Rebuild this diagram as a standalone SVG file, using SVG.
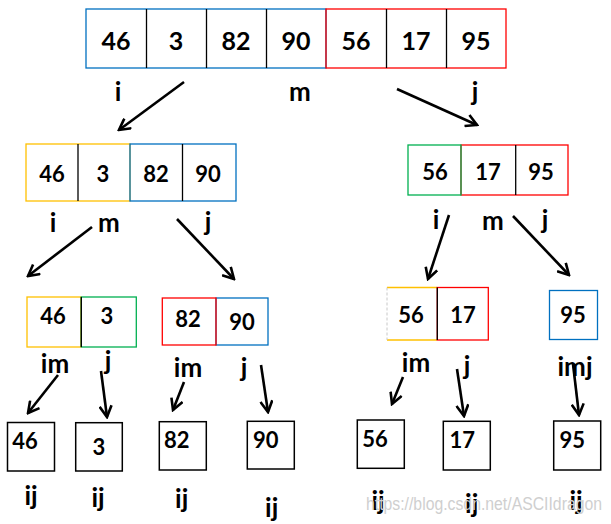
<svg xmlns="http://www.w3.org/2000/svg" width="611" height="524" viewBox="0 0 611 524">
<style>
.bg{fill:#fff}
.cell{fill:none;stroke-width:1.3}
.blue{stroke:#0070C0}
.red{stroke:#FF0000}
.yel{stroke:#FFC000}
.grn{stroke:#00B050}
.blk{stroke:#000}
.leaf{fill:none;stroke:#000;stroke-width:1.5}
.num{font-family:Lato,"Open Sans","DejaVu Sans",sans-serif;font-weight:700;fill:#000;text-anchor:middle}
.big{font-size:25px}
.mid{font-size:22px}
.lbl{font-family:Lato,"Open Sans","DejaVu Sans",sans-serif;font-weight:700;font-size:26px;fill:#000;text-anchor:middle}
.arr{fill:none;stroke:#000;stroke-width:2.6;marker-end:url(#ah)}
.wm{font-family:"Liberation Sans",Arial,sans-serif;font-size:18px;fill:#cfcfcf}
</style>
<defs>
<marker id="ah" viewBox="0 0 14 14" refX="12" refY="7" markerWidth="14" markerHeight="14" markerUnits="userSpaceOnUse" orient="auto">
<path d="M1,1 L12,7 L1,13" fill="none" stroke="#000" stroke-width="2.6" stroke-linejoin="miter"/>
</marker>
</defs>
<rect class="bg" x="0" y="0" width="611" height="524"/>

<g id="node-root">
<rect class="cell blue" x="86" y="9" width="240" height="59"/>
<rect class="cell red" x="326" y="9" width="180" height="59"/>
<line class="cell blk" x1="146.5" y1="9" x2="146.5" y2="68"/>
<line class="cell blk" x1="206.5" y1="9" x2="206.5" y2="68"/>
<line class="cell blk" x1="266.5" y1="9" x2="266.5" y2="68"/>
<line class="cell blk" x1="386.5" y1="9" x2="386.5" y2="68"/>
<line class="cell blk" x1="446.5" y1="9" x2="446.5" y2="68"/>
<text class="num big" x="116" y="49.5">46</text>
<text class="num big" x="176" y="49.5">3</text>
<text class="num big" x="236" y="49.5">82</text>
<text class="num big" x="296" y="49.5">90</text>
<text class="num big" x="356" y="49.5">56</text>
<text class="num big" x="416" y="49.5">17</text>
<text class="num big" x="476" y="49.5">95</text>
<text class="lbl" x="118" y="101">i</text>
<text class="lbl" x="300" y="101">m</text>
<text class="lbl" x="475" y="101">j</text>
</g>

<g id="node-left">
<rect class="cell yel" x="26" y="144" width="104" height="57"/>
<rect class="cell blue" x="130" y="144" width="106" height="57"/>
<line class="cell blk" x1="78" y1="144" x2="78" y2="201"/>
<line class="cell blk" x1="182.5" y1="144" x2="182.5" y2="201"/>
<text class="num mid" x="52" y="181.5">46</text>
<text class="num mid" x="103" y="181.5">3</text>
<text class="num mid" x="156" y="181.5">82</text>
<text class="num mid" x="208" y="181.5">90</text>
<text class="lbl" x="53" y="232">i</text>
<text class="lbl" x="109" y="232">m</text>
<text class="lbl" x="208" y="231">j</text>
</g>

<g id="node-right">
<rect class="cell red" x="461" y="145" width="107" height="50"/>
<rect class="cell grn" x="408" y="145" width="53" height="50"/>
<line class="cell blk" x1="515.7" y1="145" x2="515.7" y2="195"/>
<text class="num mid" x="435" y="179.5">56</text>
<text class="num mid" x="488" y="179.5">17</text>
<text class="num mid" x="541" y="179.5">95</text>
<text class="lbl" x="436" y="229">i</text>
<text class="lbl" x="493" y="229.5">m</text>
<text class="lbl" x="545" y="229">j</text>
</g>

<g id="node-46-3">
<rect class="cell yel" x="27" y="297" width="54" height="50"/>
<rect class="cell grn" x="81.3" y="297" width="55" height="50"/>
<line class="cell blk" x1="81.3" y1="297" x2="81.3" y2="347"/>
<text class="num mid" x="53" y="324">46</text>
<text class="num mid" x="107" y="324">3</text>
<text class="lbl" x="55" y="372.5">im</text>
<text class="lbl" x="108" y="370">j</text>
</g>

<g id="node-82-90">
<rect class="cell blue" x="216" y="298" width="52" height="47"/>
<rect class="cell red" x="162.3" y="298" width="53.7" height="47"/>
<text class="num mid" x="188" y="327">82</text>
<text class="num mid" x="242" y="330">90</text>
<text class="lbl" x="188" y="377">im</text>
<text class="lbl" x="244" y="377">j</text>
</g>

<g id="node-56-17">
<line x1="387" y1="287.5" x2="437" y2="287.5" stroke="#FFC000" stroke-width="1.3"/>
<line x1="387" y1="340" x2="437" y2="340" stroke="#FFC000" stroke-width="1.3"/>
<line x1="387" y1="287.5" x2="387" y2="340" stroke="#c8c8c8" stroke-width="1" stroke-dasharray="3,2"/>
<rect class="cell red" x="437.3" y="287.5" width="51" height="52.5"/>
<line class="cell blk" x1="437.3" y1="287.5" x2="437.3" y2="340"/>
<text class="num mid" x="411" y="322.7">56</text>
<text class="num mid" x="463" y="322.7">17</text>
<text class="lbl" x="416" y="371.5">im</text>
<text class="lbl" x="467" y="375">j</text>
</g>

<g id="node-95">
<rect class="cell blue" x="549.5" y="290.5" width="48" height="49"/>
<text class="num mid" x="573" y="323">95</text>
<text class="lbl" x="575" y="375.5">imj</text>
</g>

<g id="leaf-46">
<rect class="leaf" x="7.5" y="422.5" width="47" height="48.5"/>
<text class="num mid" x="25" y="449.3">46</text>
<text class="lbl" x="31" y="505">ij</text>
</g>
<g id="leaf-3">
<rect class="leaf" x="75.7" y="422.7" width="46.6" height="48.3"/>
<text class="num mid" x="99" y="455">3</text>
<text class="lbl" x="98" y="506.5">ij</text>
</g>
<g id="leaf-82">
<rect class="leaf" x="159.3" y="421.7" width="47" height="48.3"/>
<text class="num mid" x="176.7" y="448">82</text>
<text class="lbl" x="181.7" y="508">ij</text>
</g>
<g id="leaf-90">
<rect class="leaf" x="247.3" y="421.3" width="47" height="47.7"/>
<text class="num mid" x="265.7" y="448">90</text>
<text class="lbl" x="271.7" y="516.5">ij</text>
</g>
<g id="leaf-56">
<rect class="leaf" x="357.3" y="420" width="47" height="48.3"/>
<text class="num mid" x="375" y="447">56</text>
<text class="lbl" x="378" y="510">ij</text>
</g>
<g id="leaf-17">
<rect class="leaf" x="443.3" y="421.3" width="47" height="48.7"/>
<text class="num mid" x="462.3" y="448">17</text>
<text class="lbl" x="471.7" y="513">ij</text>
</g>
<g id="leaf-95">
<rect class="leaf" x="553.7" y="421" width="47" height="49"/>
<text class="num mid" x="572.3" y="448">95</text>
<text class="lbl" x="576" y="510">ij</text>
</g>

<g id="connectors">
<line class="arr" x1="184" y1="82" x2="119" y2="130"/>
<line class="arr" x1="397" y1="89" x2="477" y2="125"/>
<line class="arr" x1="92" y1="227" x2="28" y2="276"/>
<line class="arr" x1="177" y1="219" x2="234" y2="279"/>
<line class="arr" x1="449" y1="215" x2="428" y2="279"/>
<line class="arr" x1="513" y1="216" x2="569" y2="275"/>
<line class="arr" x1="58" y1="375" x2="28" y2="413"/>
<line class="arr" x1="101" y1="371" x2="107" y2="417"/>
<line class="arr" x1="184" y1="382" x2="173" y2="410"/>
<line class="arr" x1="261" y1="365" x2="268" y2="412"/>
<line class="arr" x1="403" y1="377" x2="392" y2="404"/>
<line class="arr" x1="457" y1="369" x2="464" y2="416"/>
<line class="arr" x1="573" y1="364" x2="579" y2="415"/>
</g>

<text class="wm" x="366" y="510" textLength="236" lengthAdjust="spacingAndGlyphs">https://blog.csdn.net/ASCIIdragon</text>
</svg>
